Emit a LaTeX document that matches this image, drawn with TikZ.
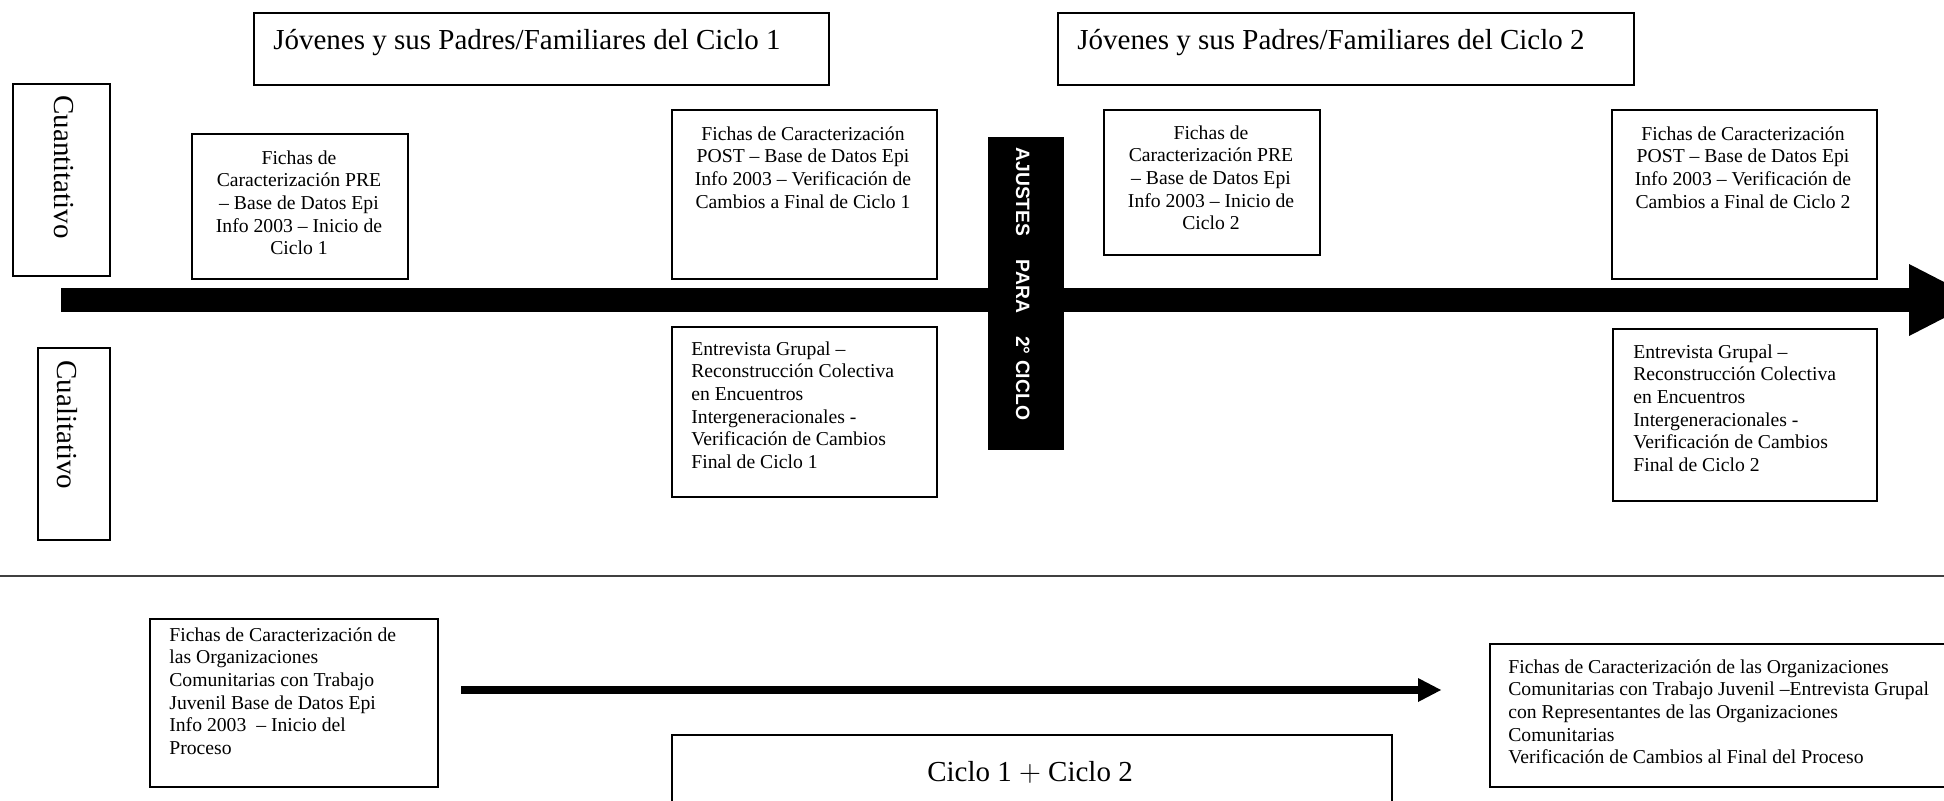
\documentclass[tikz,border=0pt]{standalone}
\usepackage{fontspec}
\setmainfont{Liberation Serif}
\newfontfamily\ajustesfont{Liberation Sans}
\usetikzlibrary{arrows.meta}

\tikzset{
  caja/.style={draw, line width=1.1pt, inner sep=0pt, anchor=north west},
  titulo/.style={font=\fontsize{16.5}{19}\selectfont, inner sep=0pt},
  chico/.style={font=\fontsize{11.2}{12.9}\selectfont, inner sep=0pt},
  eje/.style={line width=0.48cm, -{Triangle[length=1.4cm, width=1.44cm, line width=0pt]}},
  ejeorg/.style={line width=0.16cm, -{Triangle[length=0.46cm, width=0.48cm, line width=0pt]}},
}

\begin{document}
\begin{tikzpicture}[x=0.02cm, y=-0.02cm]

    \useasboundingbox (0,0) rectangle (1944,801);
    \clip (0,0) rectangle (1944,801);

    % Encabezados de cada ciclo
    \node[caja, minimum width=11.5cm, minimum height=1.44cm] (ciclo1) at (253,12) {};
    \node[titulo, anchor=base west] (ciclo1txt) at (273,50) {Jóvenes y sus Padres/Familiares del Ciclo 1};
    \node[caja, minimum width=11.52cm, minimum height=1.44cm] (ciclo2) at (1057,12) {};
    \node[titulo, anchor=base west] (ciclo2txt) at (1077,50) {Jóvenes y sus Padres/Familiares del Ciclo 2};

    % Tipo de dato
    \node[caja, minimum width=1.94cm, minimum height=3.84cm] (cuanti) at (12,83) {};
    \node[titulo, rotate=-90, anchor=base west] (cuantitxt) at (54,95) {Cuantitativo};
    \node[caja, minimum width=1.44cm, minimum height=3.84cm] (cuali) at (37,347) {};
    \node[titulo, rotate=-90, anchor=base west] (cualitxt) at (57,360) {Cualitativo};

    % Eje del tiempo
    \coordinate (ejeIni) at (61,300);
    \coordinate (ejeFin) at (1979,300);
    \draw[eje] (ejeIni) -- (ejeFin);

    % Ciclo 1
    \node[caja, minimum width=4.32cm, minimum height=2.9cm] (pre1) at (191,133) {};
    \node[chico, anchor=north, align=center] (pre1txt) at (299,150)
        {Fichas de\\Caracterización PRE\\– Base de Datos Epi\\Info 2003 – Inicio de\\Ciclo 1};
    \node[caja, minimum width=5.3cm, minimum height=3.38cm] (post1) at (671,109) {};
    \node[chico, anchor=north, align=center] (post1txt) at (803,126)
        {Fichas de Caracterización\\POST – Base de Datos Epi\\Info 2003 – Verificación de\\Cambios a Final de Ciclo 1};
    \node[caja, minimum width=5.3cm, minimum height=3.4cm] (ent1) at (671,326) {};
    \node[chico, anchor=north west, align=left] (ent1txt) at (691,341)
        {Entrevista Grupal –\\Reconstrucción Colectiva\\en Encuentros\\Intergeneracionales -\\Verificación de Cambios\\Final de Ciclo 1};

    % Ajustes entre ciclos
    \node[caja, fill=black, minimum width=1.48cm, minimum height=6.22cm] (ajustes) at (988,137) {};
    \node[rotate=-90, anchor=base west, inner sep=0pt, text=white,
          font=\ajustesfont\bfseries\fontsize{11}{13}\selectfont] (ajustestxt) at (1016,147)
        {AJUSTES\hspace{1.2em}PARA\hspace{1.2em}2° CICLO};

    % Ciclo 2
    \node[caja, minimum width=4.32cm, minimum height=2.9cm] (pre2) at (1103,109) {};
    \node[chico, anchor=north, align=center] (pre2txt) at (1211,125)
        {Fichas de\\Caracterización PRE\\– Base de Datos Epi\\Info 2003 – Inicio de\\Ciclo 2};
    \node[caja, minimum width=5.3cm, minimum height=3.38cm] (post2) at (1611,109) {};
    \node[chico, anchor=north, align=center] (post2txt) at (1743,126)
        {Fichas de Caracterización\\POST – Base de Datos Epi\\Info 2003 – Verificación de\\Cambios a Final de Ciclo 2};
    \node[caja, minimum width=5.28cm, minimum height=3.44cm] (ent2) at (1612,328) {};
    \node[chico, anchor=north west, align=left] (ent2txt) at (1633,344)
        {Entrevista Grupal –\\Reconstrucción Colectiva\\en Encuentros\\Intergeneracionales -\\Verificación de Cambios\\Final de Ciclo 2};

    % Separador
    \draw[line width=0.8pt, black!75] (0,576) -- (1944,576);

    % Organizaciones comunitarias
    \node[caja, minimum width=5.76cm, minimum height=3.36cm] (org1) at (149,618) {};
    \node[chico, anchor=north west, align=left] (org1txt) at (169,627)
        {Fichas de Caracterización de\\las Organizaciones\\Comunitarias con Trabajo\\Juvenil Base de Datos Epi\\Info 2003\ \ – Inicio del\\Proceso};
    \coordinate (orgIni) at (461,690);
    \coordinate (orgFin) at (1441,690);
    \draw[ejeorg] (orgIni) -- (orgFin);
    \node[caja, minimum width=9.6cm, minimum height=2.86cm] (org2) at (1489,643) {};
    \node[chico, anchor=north west, align=left] (org2txt) at (1508,659)
        {Fichas de Caracterización de las Organizaciones\\Comunitarias con Trabajo Juvenil –Entrevista Grupal\\con Representantes de las Organizaciones\\Comunitarias\\Verificación de Cambios al Final del Proceso};
    \node[caja, minimum width=14.4cm, minimum height=2cm] (ciclos) at (671,734) {};
    \node[titulo, anchor=base] (ciclostxt) at (1030,781) {Ciclo 1 $+$ Ciclo 2};

\end{tikzpicture}
\end{document}
